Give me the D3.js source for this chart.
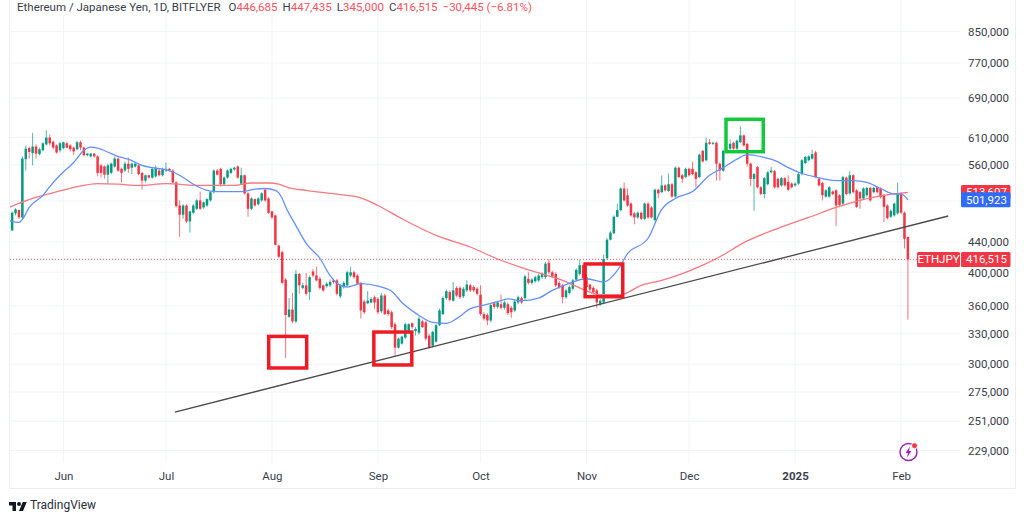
<!DOCTYPE html>
<html>
<head>
<meta charset="utf-8">
<script src="https://cdn.jsdelivr.net/npm/d3@7"></script>
<style>
  html, body { margin: 0; background: #fff; }
  svg { display: block; font-family: Roboto, sans-serif; }
</style>
</head>
<body>
<div id="chart"></div>
<script>
// prices are in thousands of JPY, index 0 is 16 May 2024, one candle per day
const opens = [
  466,456,481,486,475,570,590,581,593,579,
  586,597,610,602,595,586,590,599,595,591,
  588,601,591,577,575,580,575,559,557,543,
  546,557,571,553,550,562,555,557,559,546,
  533,542,538,540,550,542,550,553,550,530,
  493,479,493,469,482,488,501,490,493,501,
  514,550,553,527,538,546,552,557,528,542,
  512,488,503,495,501,518,504,484,478,435,
  426,391,348,356,343,398,381,384,376,401,
  396,392,384,383,384,390,390,371,382,384,
  396,400,396,387,365,363,364,370,368,354,
  372,355,353,340,316,320,326,331,341,333,
  331,343,342,328,318,322,339,351,369,376,
  366,381,381,371,378,384,382,380,373,351,
  350,344,363,359,362,358,362,358,355,364,
  369,369,392,387,389,390,394,394,412,400,
  398,387,384,370,375,380,391,398,409,394,
  385,381,378,362,364,418,443,452,476,486,
  520,509,496,481,475,482,473,496,490,471,
  518,514,525,516,527,507,555,542,539,553,
  553,547,539,585,568,601,598,600,562,550,
  583,589,600,589,601,614,598,562,536,556,
  522,511,527,547,549,536,525,537,531,528,
  525,528,544,563,568,571,582,536,529,507,
  507,515,517,509,496,538,512,542,517,514,
  504,509,521,514,522,520,509,493,476,478,
  481,512,482,446.685
];
const highs = [
  468,484,489,487,575,595,593,619,597,591,
  601,624,616,604,597,602,602,602,597,593,
  604,604,593,581,581,581,577,562,559,562,
  564,575,573,555,566,573,564,564,561,548,
  543,543,555,559,553,555,564,555,552,532,
  501,495,495,485,495,503,515,499,504,515,
  552,553,555,540,552,555,557,559,555,543,
  514,506,504,506,514,520,506,485,479,436,
  428,393,369,375,403,399,387,399,396,404,
  407,394,385,388,391,392,392,386,389,402,
  407,402,398,388,367,377,370,372,370,375,
  374,357,355,342,326,328,342,341,342,337,
  348,345,344,330,333,340,357,371,379,378,
  388,383,383,382,390,386,384,382,384,353,
  352,363,365,366,373,366,364,360,367,372,
  371,397,400,393,396,398,400,413,417,402,
  400,389,386,380,384,392,405,416,411,396,
  386,383,380,368,423,445,455,478,496,522,
  530,520,498,483,484,484,498,498,492,520,
  520,542,527,545,529,557,557,544,555,555,
  565,549,580,587,610,607,602,602,564,587,
  589,606,602,606,632,616,600,564,546,558,
  524,539,549,557,551,538,539,539,542,530,
  530,546,570,576,577,587,585,538,531,519,
  524,517,519,511,541,540,549,544,519,516,
  522,523,523,523,524,522,511,495,487,498,
  530,514,484,447.435
];
const lows = [
  456,456,478,473,473,550,571,559,571,577,
  584,595,595,588,580,582,588,590,584,578,
  586,586,575,575,573,573,540,538,536,527,
  544,555,548,530,548,546,544,555,542,518,
  530,536,536,538,540,540,548,548,528,490,
  447,473,467,453,480,486,486,488,491,499,
  512,542,523,525,536,544,550,536,527,510,
  476,486,491,493,499,499,480,473,435,418,
  386,306,347,341,341,374,379,372,367,394,
  389,379,376,381,382,386,372,369,380,383,
  394,392,385,346,351,362,363,357,351,352,
  350,349,335,307,315,319,325,330,335,328,
  329,336,323,315,316,321,338,350,367,365,
  365,370,368,369,376,376,376,372,349,344,
  339,342,357,357,356,356,350,347,353,362,
  362,367,385,385,387,388,392,392,398,393,
  382,380,363,368,373,378,389,396,391,380,
  377,374,358,360,362,416,442,451,475,484,
  499,491,476,465,473,471,471,473,473,469,
  504,513,515,514,505,505,537,529,537,540,
  542,522,537,564,566,596,596,533,533,548,
  582,587,587,587,599,593,557,524,485,520,
  509,504,525,545,520,520,523,523,516,520,
  523,526,542,561,566,569,537,523,501,505,
  505,509,462,492,494,509,510,512,489,488,
  502,507,499,512,512,504,468,472,474,476,
  479,480,431,345
];
const closes = [
  460,482,487,475,571,589,583,593,580,588,
  599,610,599,591,582,599,601,591,588,584,
  601,591,577,580,580,575,546,546,543,559,
  562,571,550,546,562,553,562,562,544,533,
  542,538,553,555,542,553,553,550,530,492,
  479,493,469,484,493,501,488,498,503,514,
  550,543,527,538,550,553,555,538,542,512,
  488,504,493,504,512,501,482,475,436,420,
  387,350,356,343,398,384,384,374,394,396,
  390,381,378,386,388,388,374,384,387,400,
  400,394,386,355,353,366,368,364,353,372,
  351,351,337,316,325,327,340,340,337,335,
  346,337,325,316,332,339,355,369,377,367,
  378,372,370,380,385,378,378,374,351,346,
  344,361,359,364,358,364,352,353,365,370,
  364,395,387,391,394,396,398,411,400,395,
  384,382,370,378,382,390,403,409,393,382,
  379,376,364,366,417,443,453,476,486,520,
  501,493,478,475,482,473,496,475,475,518,
  512,525,517,527,507,555,539,536,553,542,
  544,536,578,566,600,598,600,562,550,585,
  587,598,589,604,614,595,562,536,544,522,
  511,537,547,550,522,522,537,525,518,522,
  528,544,568,574,575,579,539,525,509,517,
  522,511,493,494,539,511,542,514,491,504,
  520,521,501,521,514,506,491,474,485,496,
  512,482,444,416.515
];

// moving averages at the days listed
const fastDays = [0,3,4,6,10,12,15,19,22,24,26,30,33,35,39,43,47,50,54,58,61,68,72,75,78,80,81,84,87,91,94,97,99,103,108,112,115,119,124,128,131,135,139,143,146,150,155,159,165,169,174,178,181,187,191,195,200,205,209,213,216,221,224,228,232,236,242,247,251,255,259,261,263];
const fastMa = [470.5,467.6,472,490,509,523,542,564,586,592,590,580,573,570,559,554,550,542,527,517,515,515,519,520,517,504,491,463,438,418,396,384,382,386,383,377,364,352,342,341,346,357,361,365,368,366,369,378,388,392,388,402,424,445,487,504,515,542,555,570,578,573,568,555,545,539,533,533,530,520,511,511,501.923];
const slowDays = [0,7,10,15,20,26,32,38,46,56,66,71,76,79,82,87,97,103,108,115,125,135,143,150,156,162,167,173,179,185,191,198,203,208,215,225,234,242,249,255,263];
const slowMa = [490,504,509,516,523,528,527,525,528,525,525,529,529,527,521,517,510,505,493,473,449,433,417,406,398,390,381,373,373,384,390,400,409,420,439,459,475,490,501,508,513.607];

const priceTicks = [850,770,690,610,560,500,440,400,360,330,300,275,251,229];
const monthLabels = ['Jun','Jul','Aug','Sep','Oct','Nov','Dec','2025','Feb'];
const monthDays = [16,46,77,108,138,169,199,230,261];

// trend line and the marker boxes, in days and prices
const trendDays = [48.6,274.8];
const trendPrices = [258.3,477.1];
const boxStart = [76.05,106.8,168.6,209.8];
const boxEnd = [87.16,117.9,179.6,220.7];
const boxTop = [327.3,331.8,410.6,645.7];
const boxBottom = [296.5,299.3,370.6,583.5];
const boxColors = ['#ed1c24','#ed1c24','#ed1c24','#14c83c'];

const width = 1024, height = 520;
const paneLeft = 10, paneRight = 960, paneBottom = 463;
const upColor = '#089981', downColor = '#f23645';
const fmt = d3.format(',');
const yen = v => fmt(Math.round(v * 1000));

const svg = d3.select('#chart').append('svg')
  .attr('width', width)
  .attr('height', height);

const x = d3.scaleLinear().domain([0, 263]).range([8.7, 907.9]);
const y = d3.scaleLog().domain([229, 850]).range([450.5, 31.5]);

svg.append('defs').append('clipPath').attr('id', 'pane')
  .append('rect')
  .attr('x', paneLeft).attr('y', 0)
  .attr('width', paneRight - paneLeft).attr('height', paneBottom);

// outer frame
svg.append('path')
  .attr('d', `M9.5 0V488.5H1015.5V0`)
  .attr('fill', 'none')
  .attr('stroke', '#eceef2');

const grid = svg.append('g').attr('stroke', '#f2f4f8');
grid.selectAll('.h').data(priceTicks).enter().append('line')
  .attr('x1', paneLeft).attr('x2', paneRight)
  .attr('y1', d => y(d)).attr('y2', d => y(d));
grid.selectAll('.v').data(monthDays).enter().append('line')
  .attr('x1', d => x(d)).attr('x2', d => x(d))
  .attr('y1', 0).attr('y2', paneBottom);

const pane = svg.append('g').attr('clip-path', 'url(#pane)');

const candles = pane.selectAll('g.candle').data(opens).enter().append('g');
candles.append('line')
  .attr('x1', (d, i) => x(i)).attr('x2', (d, i) => x(i))
  .attr('y1', (d, i) => y(highs[i])).attr('y2', (d, i) => y(lows[i]))
  .attr('stroke', (d, i) => closes[i] >= d ? upColor : downColor)
  .attr('stroke-opacity', 0.7);
candles.append('rect')
  .attr('x', (d, i) => x(i) - 1.25)
  .attr('width', 2.5)
  .attr('y', (d, i) => y(Math.max(d, closes[i])))
  .attr('height', (d, i) => Math.max(1, Math.abs(y(d) - y(closes[i]))))
  .attr('fill', (d, i) => closes[i] >= d ? upColor : downColor);

const maLine = days => d3.line()
  .x((d, i) => x(days[i]))
  .y(d => y(d))
  .curve(d3.curveMonotoneX);

pane.append('path').datum(slowMa)
  .attr('d', maLine(slowDays))
  .attr('fill', 'none').attr('stroke', '#f7787f').attr('stroke-width', 1.3);
pane.append('path').datum(fastMa)
  .attr('d', maLine(fastDays))
  .attr('fill', 'none').attr('stroke', '#6390fb').attr('stroke-width', 1.3);

// last price dotted line
const last = closes[closes.length - 1];
pane.append('line')
  .attr('x1', paneLeft).attr('x2', 917)
  .attr('y1', y(last)).attr('y2', y(last))
  .attr('stroke', downColor).attr('stroke-opacity', 0.8)
  .attr('stroke-dasharray', '1 2');

svg.append('line')
  .attr('x1', x(trendDays[0])).attr('y1', y(trendPrices[0]))
  .attr('x2', x(trendDays[1])).attr('y2', y(trendPrices[1]))
  .attr('stroke', '#4a4a4a').attr('stroke-width', 1.3);

svg.selectAll('rect.box').data(boxStart).enter().append('rect')
  .attr('x', d => x(d))
  .attr('y', (d, i) => y(boxTop[i]))
  .attr('width', (d, i) => x(boxEnd[i]) - x(d))
  .attr('height', (d, i) => y(boxBottom[i]) - y(boxTop[i]))
  .attr('fill', 'none')
  .attr('stroke', (d, i) => boxColors[i])
  .attr('stroke-width', 3.5);

// axes
const yAxis = svg.append('g')
  .attr('transform', `translate(${paneRight},0)`)
  .call(d3.axisRight(y).tickValues(priceTicks).tickSize(0).tickPadding(8).tickFormat(yen));
yAxis.select('.domain').remove();
yAxis.selectAll('text').attr('font-size', 11.5).attr('font-family', 'Roboto, sans-serif').attr('fill', '#3a3e4a');

const xAxis = svg.append('g')
  .attr('transform', `translate(0,${paneBottom})`)
  .call(d3.axisBottom(x).tickValues(monthDays).tickSize(0).tickPadding(9)
    .tickFormat((d, i) => monthLabels[i]));
xAxis.select('.domain').remove();
xAxis.selectAll('text').attr('font-size', 11.5).attr('font-family', 'Roboto, sans-serif').attr('fill', '#3a3e4a')
  .attr('font-weight', (d, i) => monthLabels[i] === '2025' ? 700 : 400);

// price tags on the axis
const tags = [
  { v: slowMa[slowMa.length - 1], c: '#f23645' },
  { v: fastMa[fastMa.length - 1], c: '#2f6bff' },
  { v: last, c: '#f23645' }
];
tags.forEach(t => {
  svg.append('rect')
    .attr('x', 961).attr('y', y(t.v) - 7.5)
    .attr('width', 49.5).attr('height', 15).attr('rx', 1.5)
    .attr('fill', t.c);
  svg.append('text')
    .attr('x', 1007).attr('y', y(t.v) + 4)
    .attr('text-anchor', 'end')
    .attr('font-size', 11.5).attr('fill', '#fff')
    .text(yen(t.v));
});
svg.append('rect')
  .attr('x', 917).attr('y', y(last) - 7.5)
  .attr('width', 43).attr('height', 15).attr('rx', 1.5)
  .attr('fill', '#f23645');
svg.append('text')
  .attr('x', 938.5).attr('y', y(last) + 4)
  .attr('text-anchor', 'middle')
  .attr('font-size', 11.5).attr('fill', '#fff')
  .text('ETHJPY');

// header
const head = svg.append('text').attr('x', 17).attr('y', 11).attr('font-size', 11.5).attr('fill', '#3a3e4a');
head.append('tspan').text('Ethereum / Japanese Yen, 1D, BITFLYER');
const ohlcParts = [['O', yen(opens[263])], ['H', yen(highs[263])], ['L', yen(lows[263])], ['C', yen(closes[263])]];
ohlcParts.forEach((p, i) => {
  head.append('tspan').attr('dx', i === 0 ? 8 : 5).text(p[0]);
  head.append('tspan').attr('fill', '#f7525f').text(p[1]);
});
head.append('tspan').attr('dx', 5).attr('fill', '#f7525f').text('−30,445 (−6.81%)');

// lightning badge
const badge = svg.append('g').attr('transform', 'translate(908.5,452)');
badge.append('circle').attr('r', 8.5).attr('fill', '#fff').attr('stroke', '#9c27b0').attr('stroke-width', 1.5);
badge.append('path').attr('d', 'M1.5-5.5L-3 1H-0.5L-1.5 5.5L3-1H0.5Z').attr('fill', '#9c27b0');
badge.append('circle').attr('cx', 6).attr('cy', -6.3).attr('r', 3).attr('fill', '#f23645').attr('stroke', '#fff');

// TradingView logo
svg.append('path')
  .attr('transform', 'translate(9,500) scale(0.5)')
  .attr('d', 'M14 22H7V11H0V4h14v18zM28 22h-8l7.5-18h8L28 22z')
  .attr('fill', '#131722');
svg.append('circle').attr('cx', 19).attr('cy', 504).attr('r', 2).attr('fill', '#131722');
svg.append('text')
  .attr('x', 30).attr('y', 509)
  .attr('font-size', 12).attr('fill', '#2a2e39')
  .text('TradingView');
</script>
</body>
</html>
